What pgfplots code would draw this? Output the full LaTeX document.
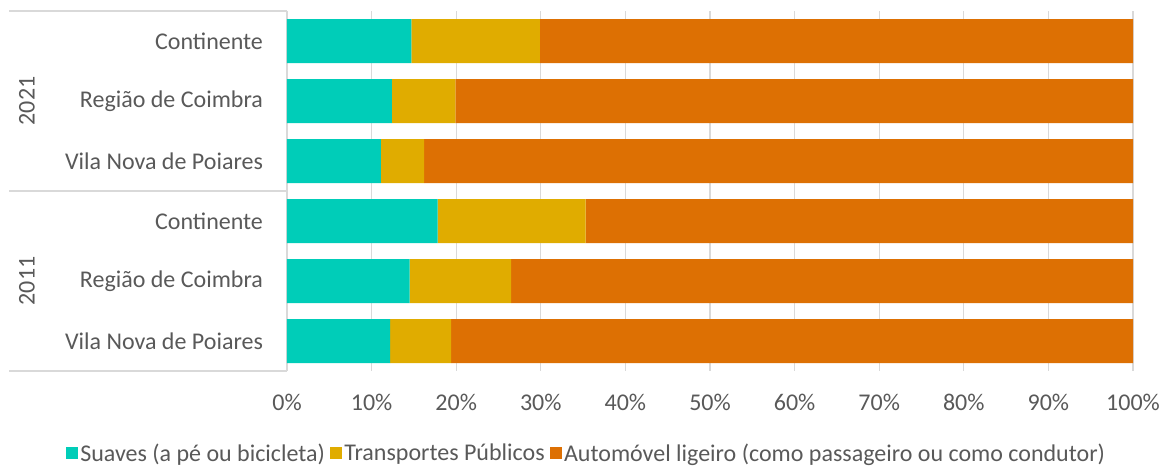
\documentclass[border=0pt]{standalone}
\usepackage{fontspec}
\setmainfont{Carlito}
\usepackage{pgfplots}
\pgfplotsset{compat=1.18}
\definecolor{cteal}{HTML}{00CDB8}
\definecolor{cgold}{HTML}{E0AC00}
\definecolor{corange}{HTML}{DD7003}
\definecolor{textgray}{HTML}{595959}
\definecolor{gridgray}{HTML}{D9D9D9}
\begin{document}
\begin{tikzpicture}
\useasboundingbox (0,0) rectangle (870.75pt,351pt);
\begin{axis}[
    at={(215.25pt,72.75pt)}, anchor=south west,
    width=634.5pt, height=270pt, scale only axis,
    clip=false,
    xbar stacked, bar width=33pt,
    xmin=0, xmax=100, ymin=-0.5, ymax=5.5, y dir=reverse,
    xtick={0,10,...,100},
    xticklabels={0\%,10\%,20\%,30\%,40\%,50\%,60\%,70\%,80\%,90\%,100\%},
    ytick={0,...,5},
    yticklabels={Continente,Região de Coimbra,Vila Nova de Poiares,Continente,Região de Coimbra,Vila Nova de Poiares},
    xmajorgrids, grid style={draw=gridgray, line width=1pt},
    axis lines*=left,
    x axis line style={draw=none},
    y axis line style={draw=gridgray, line width=1pt},
    major tick length=0pt,
    tick label style={font=\fontsize{18}{21}\selectfont, text=textgray},
    xticklabel style={yshift=-14pt},
    yticklabel style={xshift=-14.5pt},
    legend columns=3,
    legend style={draw=none, fill=none, at={(-0.2612,-0.229)}, anchor=west,
        font=\fontsize{18}{21}\selectfont, text=textgray, inner sep=0pt,
        nodes={inner sep=1.5pt},
        /tikz/every even column/.append style={column sep=2.5pt}},
    legend image code/.code={\fill[#1] (0pt,-4.5pt) rectangle (9pt,4.5pt);},
]
\addplot[fill=cteal, draw=none] coordinates {(14.7,0) (12.4,1) (11.1,2) (17.8,3) (14.5,4) (12.2,5)};
\addlegendentry{Suaves (a pé ou bicicleta)}
\addplot[fill=cgold, draw=none] coordinates {(15.2,0) (7.5,1) (5.1,2) (17.5,3) (12.0,4) (7.2,5)};
\addlegendentry{Transportes Públicos}
\addplot[fill=corange, draw=none] coordinates {(70.1,0) (80.1,1) (83.8,2) (64.7,3) (73.5,4) (80.6,5)};
\addlegendentry{Automóvel ligeiro (como passageiro ou como condutor)}
\draw[gridgray, line width=1pt] (axis cs:0,-0.5) -- ++(-208.5pt,0pt);
\draw[gridgray, line width=1pt] (axis cs:0,2.5) -- ++(-208.5pt,0pt);
\draw[gridgray, line width=1pt] (axis cs:0,5.5) -- ++(-208.5pt,0pt);
\node[rotate=90, font=\fontsize{18}{21}\selectfont, text=textgray] at ([xshift=-195pt]axis cs:0,1) {2021};
\node[rotate=90, font=\fontsize{18}{21}\selectfont, text=textgray] at ([xshift=-195pt]axis cs:0,4) {2011};
\end{axis}
\end{tikzpicture}
\end{document}
